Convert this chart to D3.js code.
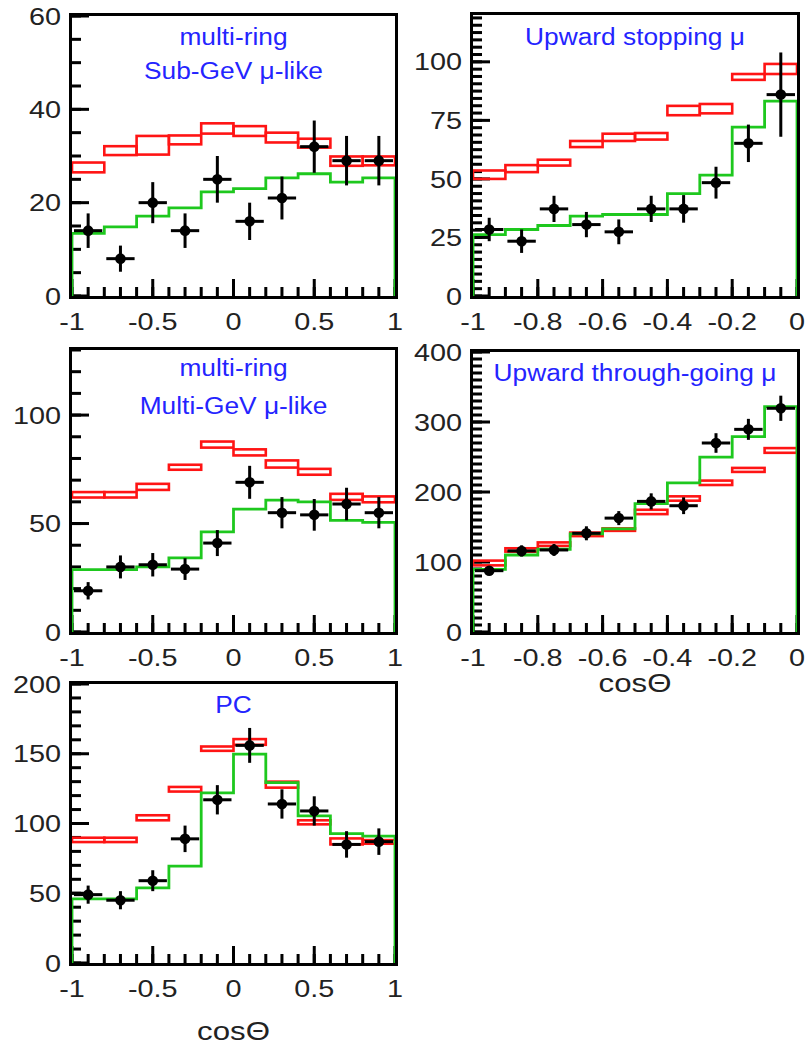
<!DOCTYPE html>
<html>
<head>
<meta charset="utf-8">
<script src="https://cdn.jsdelivr.net/npm/d3@7"></script>
<style>
  body { margin: 0; background: #fff; }
  svg { display: block; }
  text { font-family: "Liberation Sans", Arial, Helvetica, sans-serif; }
</style>
</head>
<body>
<div id="chart"></div>
<script>
// bin edges in cos(theta)
const edgesFull = [-1, -0.8, -0.6, -0.4, -0.2, 0, 0.2, 0.4, 0.6, 0.8, 1];
const edgesUp = [-1, -0.9, -0.8, -0.7, -0.6, -0.5, -0.4, -0.3, -0.2, -0.1, 0];

// multi-ring Sub-GeV mu-like
const subData = [14, 8, 20, 14, 25, 16, 21, 32, 29, 29];
const subErr = [3.7, 2.8, 4.4, 3.7, 5, 4, 4.6, 5.6, 5.3, 5.3];
const subBandLo = [26.5, 30.2, 30.3, 32.5, 34.8, 34.3, 32.9, 31.8, 27.9, 28];
const subBandHi = [28.6, 32.1, 34.3, 34.4, 37, 36.4, 35, 33.7, 29.9, 29.9];
const subMC = [13.4, 14.8, 17.1, 18.9, 22.3, 23, 25.3, 26.2, 24.4, 25.3];

// Upward stopping mu
const stopData = [28.4, 23.4, 37.2, 30.5, 27.4, 37.2, 37.2, 48.4, 65.2, 86];
const stopErr = [5, 5, 5.6, 5.4, 5.3, 5.6, 5.9, 6.8, 8, 18];
const stopBandLo = [50, 52.9, 55.7, 63.6, 66.2, 66.8, 77.2, 78, 92.3, 94.8];
const stopBandHi = [53.6, 55.9, 58.2, 66.2, 69.3, 69.6, 81.2, 82, 94.8, 99.1];
const stopMC = [26.2, 28.4, 30.1, 34.1, 34.8, 34.8, 43.7, 51.6, 72.1, 83.2];

// multi-ring Multi-GeV mu-like
const multiData = [19, 30, 31, 29, 41, 69, 55, 54, 59, 55];
const multiErr = [4, 5.3, 5.4, 5, 6, 7.6, 7.2, 7.3, 7.5, 7.2];
const multiBandLo = [62, 62, 65.5, 74.8, 85, 81.4, 75.8, 72.5, 60.9, 59.8];
const multiBandHi = [64.5, 64.5, 68.3, 77.1, 87.8, 84.2, 79.1, 75.2, 63.7, 62.5];
const multiMC = [28.8, 28.8, 30, 34.2, 46.2, 56.6, 60.8, 60, 51.5, 50.5];

// Upward through-going mu
const thruData = [87.6, 115.8, 117.2, 141, 162.7, 186.6, 180.4, 270, 289.5, 319.6];
const thruErr = [6, 8, 8.5, 10, 10, 11.5, 12, 14, 15, 18];
const thruBandLo = [95.2, 114.8, 123, 137, 144.5, 168.4, 187.6, 210, 228.7, 256];
const thruBandHi = [102, 119.6, 128, 142, 148, 174.6, 193.8, 216.3, 234.4, 262.7];
const thruMC = [89.5, 110, 118.2, 140.2, 147.4, 183.3, 213, 249.8, 279, 322];

// PC
const pcData = [49, 45, 59, 89, 117, 156, 114, 109, 85, 87];
const pcErr = [6.5, 6.5, 7.5, 9.5, 10.5, 12.5, 10.5, 10.5, 9.5, 9.5];
const pcBandLo = [86.7, 86.7, 102.3, 122.9, 152.1, 156.4, 125.7, 99.4, 85, 85.5];
const pcBandHi = [89.8, 89.8, 105.9, 126.2, 155.2, 160.5, 130, 102.3, 89.3, 88.1];
const pcMC = [46, 46, 53.9, 69.5, 122, 149.7, 129.3, 105.4, 92.7, 91];

// tick labels
const xTicksFull = [-1, -0.5, 0, 0.5, 1];
const xTicksUp = [-1, -0.8, -0.6, -0.4, -0.2, 0];

const width = 807, height = 1047;
const svg = d3.select("#chart").append("svg")
    .attr("width", width)
    .attr("height", height);

const panels = [
  { edges: edgesFull, data: subData, err: subErr, lo: subBandLo, hi: subBandHi, mc: subMC,
    box: [72, 16, 395, 296], ymax: 60, yMajor: [0, 20, 40, 60], yMinor: 5,
    xMajor: xTicksFull, xMinor: 0.1,
    title: ["multi-ring", "Sub-GeV \u03bc-like"], titleY: [45, 79] },
  { edges: edgesUp, data: stopData, err: stopErr, lo: stopBandLo, hi: stopBandHi, mc: stopMC,
    box: [473, 15, 797, 296], ymax: 120, yMajor: [0, 25, 50, 75, 100], yMinor: 3.125,
    xMajor: xTicksUp, xMinor: 0.05,
    title: ["Upward stopping \u03bc"], titleY: [45] },
  { edges: edgesFull, data: multiData, err: multiErr, lo: multiBandLo, hi: multiBandHi, mc: multiMC,
    box: [72, 350, 395, 632], ymax: 130, yMajor: [0, 50, 100], yMinor: 10,
    xMajor: xTicksFull, xMinor: 0.1,
    title: ["multi-ring", "Multi-GeV \u03bc-like"], titleY: [376, 414] },
  { edges: edgesUp, data: thruData, err: thruErr, lo: thruBandLo, hi: thruBandHi, mc: thruMC,
    box: [473, 352, 797, 632], ymax: 400, yMajor: [0, 100, 200, 300, 400], yMinor: 10,
    xMajor: xTicksUp, xMinor: 0.05,
    title: ["Upward through-going \u03bc"], titleY: [381], xTitle: 692 },
  { edges: edgesFull, data: pcData, err: pcErr, lo: pcBandLo, hi: pcBandHi, mc: pcMC,
    box: [72, 684, 395, 963], ymax: 200, yMajor: [0, 50, 100, 150, 200], yMinor: 10,
    xMajor: xTicksFull, xMinor: 0.1,
    title: ["PC"], titleY: [713], xTitle: 1040 }
];

const SX = 1.2;   // the figure's lettering is stretched sideways

function drawPanel(p) {
    const [L, T, R, B] = p.box;
    const n = p.edges.length - 1;
    const x = d3.scaleLinear().domain([p.edges[0], p.edges[n]]).range([L, R]);
    const y = d3.scaleLinear().domain([0, p.ymax]).range([B, T]);
    const g = svg.append("g");

    const bins = p.data.map((v, i) => ({
        x0: p.edges[i], x1: p.edges[i + 1], v: v, e: p.err[i],
        lo: p.lo[i], hi: p.hi[i], mc: p.mc[i]
    }));

    // tick labels
    g.selectAll("text.ylab").data(p.yMajor).join("text")
        .attr("class", "ylab")
        .attr("transform", d => `translate(${L - 11},${y(d)}) scale(${SX},1)`)
        .attr("dy", "0.36em")
        .attr("text-anchor", "end")
        .attr("fill", "#222")
        .style("font-size", "24px")
        .text(d => String(d));
    g.selectAll("text.xlab").data(p.xMajor).join("text")
        .attr("class", "xlab")
        .attr("transform", d => `translate(${x(d)},${B + 34}) scale(${SX},1)`)
        .attr("text-anchor", "middle")
        .attr("fill", "#222")
        .style("font-size", "24px")
        .text(d => String(d));

    // ticks, inward from the left and bottom edges
    const yMinorVals = d3.range(0, p.ymax + 1e-6, p.yMinor);
    const xMinorVals = d3.range(p.edges[0], p.edges[n] + 1e-6, p.xMinor);
    const yTicks = yMinorVals.map(v => ({ v: v, len: 9 }))
        .concat(p.yMajor.map(v => ({ v: v, len: 17 })));
    const xTicks = xMinorVals.map(v => ({ v: v, len: 9 }))
        .concat(p.xMajor.map(v => ({ v: v, len: 17 })));
    g.selectAll("rect.ytick").data(yTicks).join("rect")
        .attr("class", "ytick")
        .attr("x", L)
        .attr("y", d => y(d.v) - 1.5)
        .attr("width", d => d.len)
        .attr("height", 3)
        .attr("fill", "#000");
    g.selectAll("rect.xtick").data(xTicks).join("rect")
        .attr("class", "xtick")
        .attr("x", d => x(d.v) - 1.5)
        .attr("y", d => B - d.len)
        .attr("width", 3)
        .attr("height", d => d.len)
        .attr("fill", "#000");

    // oscillation expectation band
    g.selectAll("rect.band")
        .data(bins)
        .join("rect")
        .attr("class", "band")
        .attr("x", d => x(d.x0))
        .attr("y", d => y(d.hi))
        .attr("width", d => x(d.x1) - x(d.x0))
        .attr("height", d => y(d.lo) - y(d.hi))
        .attr("fill", "none")
        .attr("stroke", "#ff1414")
        .attr("stroke-width", 2.6);

    // best fit histogram
    const pts = [[p.edges[0], 0]];
    bins.forEach(d => { pts.push([d.x0, d.mc]); pts.push([d.x1, d.mc]); });
    pts.push([p.edges[n], 0]);
    g.append("path")
        .attr("d", d3.line().x(d => x(d[0])).y(d => y(d[1]))(pts))
        .attr("fill", "none")
        .attr("stroke", "#1ec81e")
        .attr("stroke-width", 2.8);

    // data points
    const pt = g.selectAll("g.pt").data(bins).join("g").attr("class", "pt");
    pt.append("line")
        .attr("x1", d => x(d.x0) + 2).attr("x2", d => x(d.x1) - 2)
        .attr("y1", d => y(d.v)).attr("y2", d => y(d.v))
        .attr("stroke", "#000").attr("stroke-width", 3);
    pt.append("line")
        .attr("x1", d => x((d.x0 + d.x1) / 2)).attr("x2", d => x((d.x0 + d.x1) / 2))
        .attr("y1", d => y(d.v - d.e)).attr("y2", d => y(d.v + d.e))
        .attr("stroke", "#000").attr("stroke-width", 3);
    pt.append("circle")
        .attr("cx", d => x((d.x0 + d.x1) / 2))
        .attr("cy", d => y(d.v))
        .attr("r", 5.3)
        .attr("fill", "#000");

    // frame
    g.append("rect")
        .attr("x", L - 1.5).attr("y", T - 1.5)
        .attr("width", R - L + 3).attr("height", B - T + 3)
        .attr("fill", "none")
        .attr("stroke", "#000")
        .attr("stroke-width", 3);

    // title
    const cx = (L + R) / 2;
    p.title.forEach((t, i) => {
        g.append("text")
            .attr("transform", `translate(${cx},${p.titleY[i]}) scale(1.12,1)`)
            .attr("text-anchor", "middle")
            .attr("fill", "#2424ff")
            .style("font-size", "23.5px")
            .text(t);
    });

    if (p.xTitle) {
        g.append("text")
            .attr("transform", `translate(${cx},${p.xTitle}) scale(${SX},1)`)
            .attr("text-anchor", "middle")
            .attr("fill", "#222")
            .style("font-size", "26px")
            .text("cos\u0398");
    }
}

panels.forEach(drawPanel);
</script>
</body>
</html>
